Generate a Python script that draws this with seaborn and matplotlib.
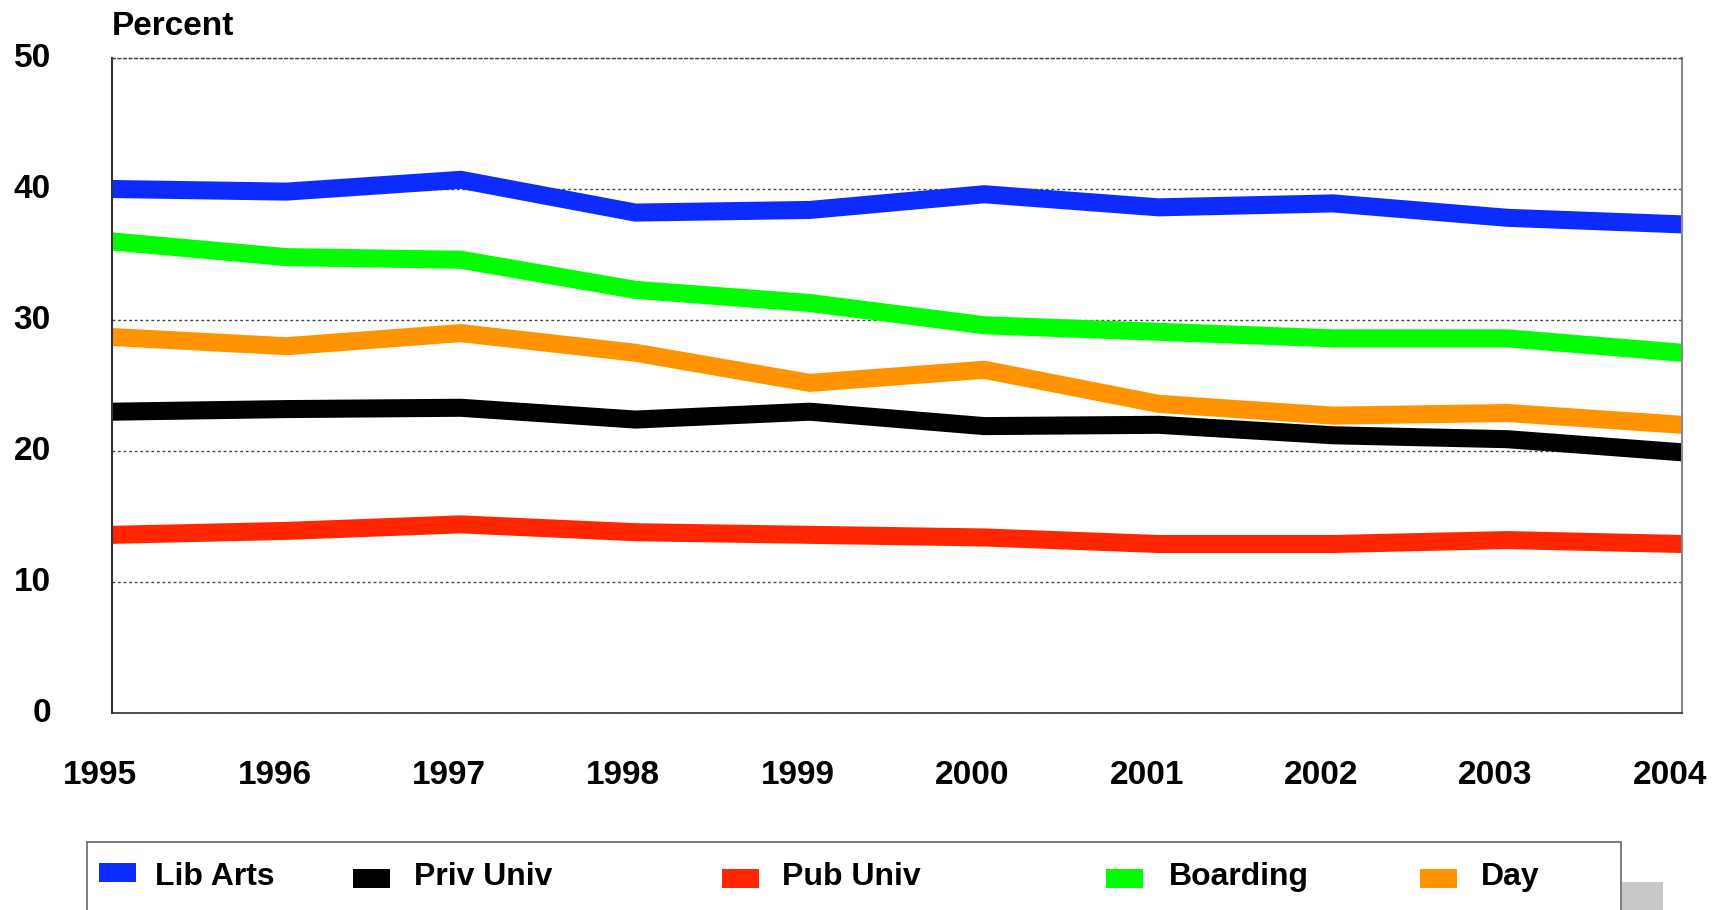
import numpy as np
import pandas as pd
import seaborn as sns
import matplotlib.pyplot as plt
import matplotlib.transforms as mtransforms
from matplotlib.patches import Rectangle

# values (percent)
years = [1995, 1996, 1997, 1998, 1999, 2000, 2001, 2002, 2003, 2004]
lib_arts = [40.0, 39.8, 40.7, 38.2, 38.4, 39.6, 38.6, 38.9, 37.8, 37.3]
priv_univ = [23.0, 23.2, 23.3, 22.4, 23.0, 21.9, 22.0, 21.2, 20.9, 19.9]
pub_univ = [13.6, 13.9, 14.4, 13.8, 13.6, 13.4, 12.9, 12.9, 13.2, 12.9]
boarding = [36.0, 34.8, 34.6, 32.3, 31.3, 29.6, 29.1, 28.6, 28.6, 27.5]
day = [28.7, 28.0, 29.0, 27.5, 25.2, 26.2, 23.6, 22.7, 22.9, 22.0]

series_names = ["Lib Arts", "Priv Univ", "Pub Univ", "Boarding", "Day"]
series_colors = ["#0b2bff", "#000000", "#ff2600", "#00ff00", "#ff9400"]
y_ticks = [0, 10, 20, 30, 40, 50]

frames = []
for name, vals in zip(series_names, [lib_arts, priv_univ, pub_univ, boarding, day]):
    frames.append(pd.DataFrame({"year": years, "pct": vals, "group": name}))
df = pd.concat(frames, ignore_index=True)

sns.set_theme(style="white")
plt.rcParams["font.family"] = ["Liberation Sans", "DejaVu Sans"]
plt.rcParams["font.weight"] = "bold"
plt.rcParams["text.color"] = "black"
plt.rcParams["xtick.color"] = "black"
plt.rcParams["ytick.color"] = "black"

W, H = 1718, 910
fig = plt.figure(figsize=(W / 100, H / 100), dpi=100)
ax = fig.add_axes([112 / W, 1 - 713 / H, (1682 - 112) / W, (713 - 58) / H])

sns.lineplot(data=df, x="year", y="pct", hue="group", hue_order=series_names,
             palette=dict(zip(series_names, series_colors)), linewidth=13,
             legend=False, ax=ax, solid_joinstyle="miter", solid_capstyle="butt")

ax.set_xlim(years[0], years[-1])
ax.set_ylim(0, 50)
ax.set_xticks(years)
ax.set_yticks(y_ticks)
ax.set_xlabel("")
ax.set_ylabel("")
ax.yaxis.grid(True, linestyle=(0, (2, 2)), color="#444444", linewidth=1)
ax.set_axisbelow(True)
ax.tick_params(axis="x", labelsize=24, pad=33.5, length=0, labelcolor="black")
ax.tick_params(axis="y", labelsize=24, pad=44, length=0, labelcolor="black")
for lab in ax.get_xticklabels():
    lab.set_fontweight("bold")
    lab.set_transform(lab.get_transform() + mtransforms.ScaledTranslation(-12 / 100, 0, fig.dpi_scale_trans))
for lab in ax.get_yticklabels():
    lab.set_fontweight("bold")
    lab.set_transform(lab.get_transform() + mtransforms.ScaledTranslation(0, 3 / 100, fig.dpi_scale_trans))

ax.spines["left"].set_color("#333333")
ax.spines["left"].set_linewidth(1.5)
ax.spines["bottom"].set_color("#333333")
ax.spines["bottom"].set_linewidth(1.2)
ax.spines["right"].set_color("#888888")
ax.spines["right"].set_linewidth(1.5)
ax.spines["top"].set_color("#444444")
ax.spines["top"].set_linestyle((0, (2, 2)))
ax.spines["top"].set_linewidth(1)

fig.text(112 / W, 1 - 35 / H, "Percent", fontsize=24, fontweight="bold",
         color="black", ha="left", va="baseline")

# legend box along the bottom
fig.add_artist(Rectangle((1622 / W, 0), 41 / W, 28 / H, transform=fig.transFigure,
                         facecolor="#c8c8c8", edgecolor="none"))
fig.add_artist(Rectangle((87 / W, -0.05), (1621 - 87) / W, (910 - 842) / H + 0.05,
                         transform=fig.transFigure, facecolor="white",
                         edgecolor="#666666", linewidth=1.2))
patch_x = [99, 353, 722, 1106, 1420]
patch_top = [863, 869, 869, 869, 869]
text_x = [155, 414, 782, 1169, 1481]
for name, color, px, pt, tx in zip(series_names, series_colors, patch_x, patch_top, text_x):
    fig.add_artist(Rectangle((px / W, 1 - (pt + 19) / H), 37 / W, 19 / H,
                             transform=fig.transFigure, facecolor=color, edgecolor="none"))
    fig.text(tx / W, 1 - 885 / H, name, fontsize=23, fontweight="bold",
             color="black", ha="left", va="baseline")

plt.savefig("out.png", dpi=100)
